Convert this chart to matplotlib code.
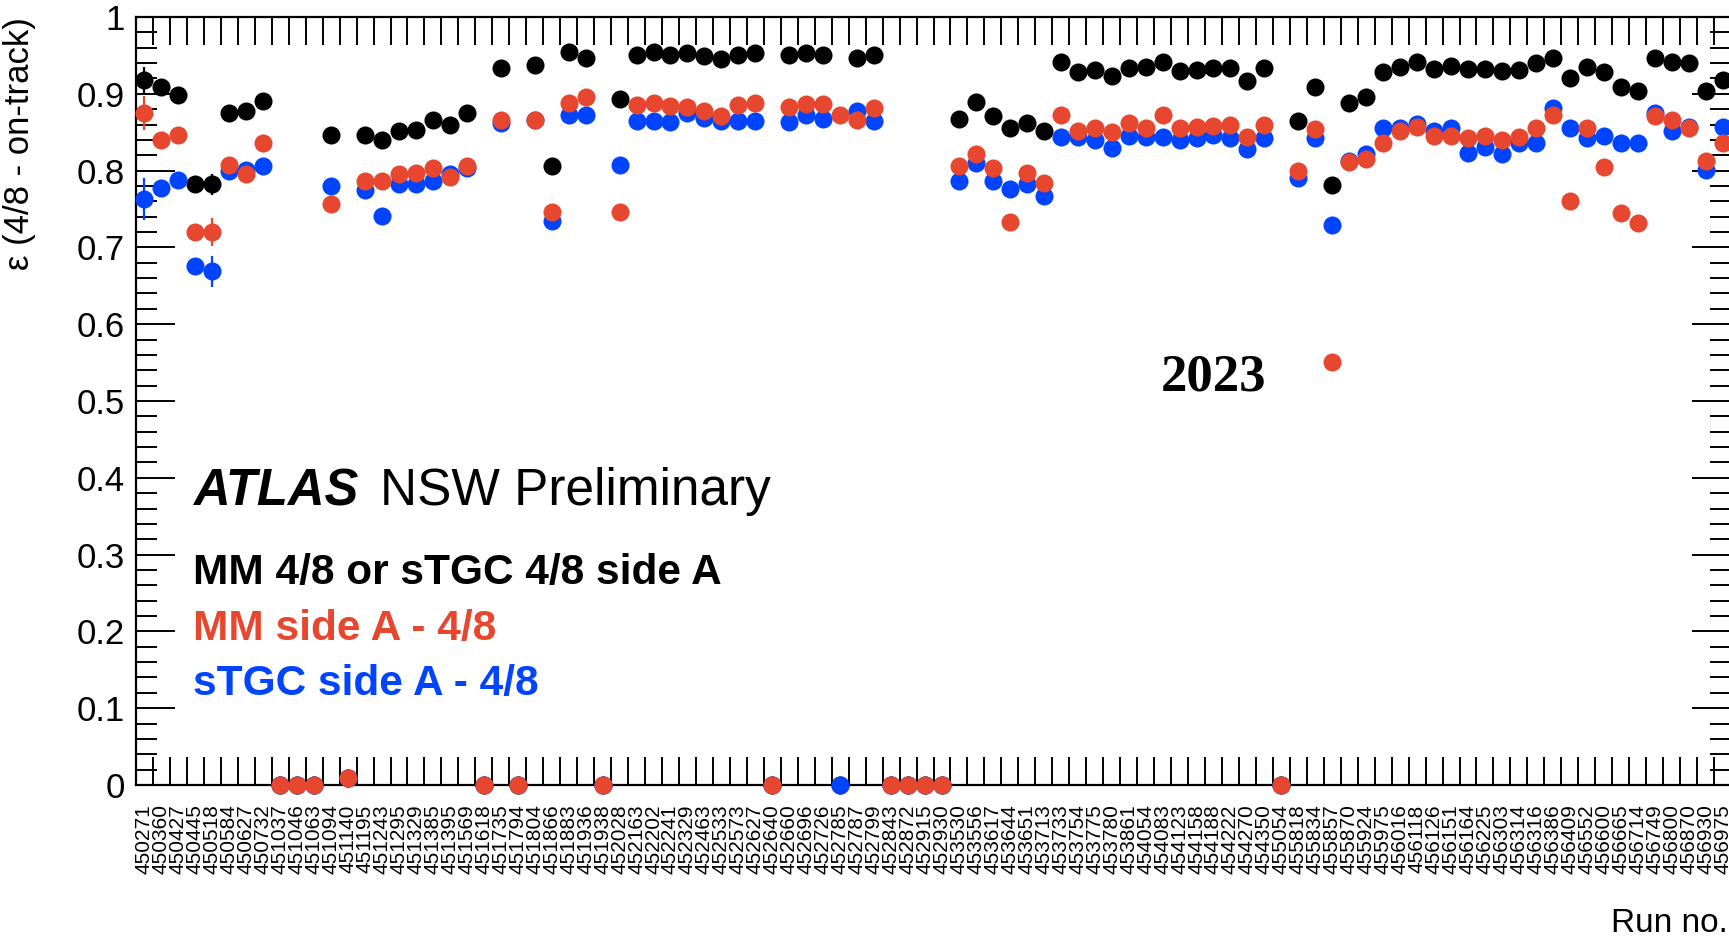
import numpy as np
import matplotlib.pyplot as plt
from matplotlib.ticker import MultipleLocator, FixedLocator, FixedFormatter

# run numbers, one per bin
RUNS = [
    "450271", "450360", "450427", "450445", "450518", "450584", "450627", "450732",
    "451037", "451046", "451063", "451094", "451140", "451195", "451243", "451295",
    "451329", "451385", "451395", "451569", "451618", "451735", "451794", "451804",
    "451866", "451883", "451936", "451938", "452028", "452163", "452202", "452241",
    "452329", "452463", "452533", "452573", "452627", "452640", "452660", "452696",
    "452726", "452785", "452787", "452799", "452843", "452872", "452915", "452930",
    "453530", "453556", "453617", "453644", "453651", "453713", "453733", "453754",
    "453775", "453780", "453861", "454054", "454083", "454123", "454158", "454188",
    "454222", "454270", "454350", "455054", "455818", "455834", "455857", "455870",
    "455924", "455975", "456016", "456118", "456126", "456151", "456164", "456225",
    "456303", "456314", "456316", "456386", "456409", "456552", "456600", "456665",
    "456714", "456749", "456800", "456870", "456930", "456975",
]

# MM 4/8 or sTGC 4/8
EFF_OR = [
    0.918, 0.909, 0.899, 0.782, 0.782, 0.875, 0.877, 0.890, 0.0, 0.0,
    0.0, 0.846, 0.009, 0.847, 0.840, 0.852, 0.853, 0.866, 0.860, 0.875,
    0.0, 0.934, 0.0, 0.938, 0.806, 0.955, 0.947, 0.0, 0.893, 0.951,
    0.954, 0.951, 0.953, 0.949, 0.945, 0.951, 0.953, 0.0, 0.951, 0.953,
    0.951, 0.0, 0.947, 0.951, 0.0, 0.0, 0.0, 0.0, 0.867, 0.889,
    0.871, 0.856, 0.862, 0.852, 0.941, 0.929, 0.931, 0.923, 0.933, 0.935,
    0.942, 0.930, 0.931, 0.934, 0.934, 0.917, 0.934, 0.0, 0.864, 0.909,
    0.781, 0.888, 0.896, 0.929, 0.935, 0.942, 0.932, 0.936, 0.932, 0.932,
    0.930, 0.931, 0.940, 0.947, 0.920, 0.935, 0.929, 0.909, 0.904, 0.946,
    0.941, 0.940, 0.903, 0.918,
]

# MM side A
EFF_MM = [
    0.875, 0.840, 0.847, 0.720, 0.720, 0.807, 0.796, 0.836, 0.0, 0.0,
    0.0, 0.756, 0.009, 0.786, 0.786, 0.796, 0.797, 0.803, 0.792, 0.806,
    0.0, 0.866, 0.0, 0.866, 0.746, 0.888, 0.896, 0.0, 0.746, 0.886,
    0.888, 0.884, 0.883, 0.877, 0.871, 0.886, 0.888, 0.0, 0.883, 0.887,
    0.887, 0.873, 0.866, 0.882, 0.0, 0.0, 0.0, 0.0, 0.806, 0.822,
    0.804, 0.733, 0.797, 0.784, 0.872, 0.852, 0.856, 0.850, 0.862, 0.855,
    0.872, 0.855, 0.857, 0.858, 0.859, 0.844, 0.860, 0.0, 0.800, 0.854,
    0.551, 0.811, 0.815, 0.836, 0.852, 0.857, 0.845, 0.845, 0.842, 0.845,
    0.840, 0.844, 0.856, 0.872, 0.761, 0.855, 0.805, 0.745, 0.732, 0.871,
    0.866, 0.856, 0.812, 0.836,
]

# sTGC side A
EFF_STGC = [
    0.763, 0.777, 0.788, 0.676, 0.669, 0.799, 0.801, 0.806, 0.0, 0.0,
    0.0, 0.780, 0.009, 0.775, 0.741, 0.782, 0.782, 0.786, 0.795, 0.803,
    0.0, 0.862, 0.0, 0.866, 0.734, 0.872, 0.872, 0.0, 0.807, 0.864,
    0.864, 0.863, 0.875, 0.868, 0.864, 0.864, 0.864, 0.0, 0.863, 0.872,
    0.867, 0.0, 0.877, 0.865, 0.0, 0.0, 0.0, 0.0, 0.786, 0.810,
    0.786, 0.776, 0.782, 0.767, 0.844, 0.844, 0.840, 0.830, 0.845, 0.844,
    0.844, 0.840, 0.843, 0.846, 0.843, 0.828, 0.842, 0.0, 0.791, 0.843,
    0.729, 0.812, 0.822, 0.856, 0.856, 0.861, 0.851, 0.855, 0.823, 0.831,
    0.822, 0.836, 0.836, 0.881, 0.856, 0.842, 0.845, 0.836, 0.836, 0.875,
    0.851, 0.857, 0.801, 0.857,
]

# visible statistical errors (bin index -> error)
ERR_OR = {0: 0.017, 4: 0.014}
ERR_MM = {0: 0.022, 4: 0.018}
ERR_STGC = {0: 0.027, 4: 0.020}

RED = "#e8472f"
BLUE = "#0044ff"
FONT = "Liberation Sans"

W, H = 1729, 939
fig = plt.figure(figsize=(W / 100, H / 100), dpi=100)
ax = fig.add_axes([136 / W, 1 - 785 / H, (1731 - 136) / W, (785 - 17) / H])

x = np.arange(len(RUNS))
series = [(EFF_OR, ERR_OR, "black"), (EFF_STGC, ERR_STGC, BLUE), (EFF_MM, ERR_MM, RED)]
for z, (vals, errs, col) in enumerate(series):
    ax.plot(x, vals, "o", ms=13, mew=0, color=col, clip_on=False, zorder=3 + z)
    for i, e in errs.items():
        ax.vlines(i, vals[i] - e, vals[i] + e, color=col, lw=1.6, zorder=3 + z)

ax.set_xlim(-0.5, len(RUNS) - 0.5)
ax.set_ylim(0, 1)

# x: labels at bin centres, ticks at bin edges
ax.xaxis.set_major_locator(FixedLocator(x))
ax.xaxis.set_major_formatter(FixedFormatter(RUNS))
ax.xaxis.set_minor_locator(FixedLocator(np.arange(0.5, len(RUNS) - 1, 1)))
ax.tick_params(axis="x", which="major", length=0, pad=14, labelsize=15,
               labelrotation=90)
ax.tick_params(axis="x", which="minor", direction="in", length=20, width=1.4,
               top=True, bottom=True)
for lab in ax.get_xticklabels():
    lab.set_fontfamily(FONT)
    lab.set_verticalalignment("top")

# y
yt = np.round(np.arange(0, 1.01, 0.1), 1)
ax.yaxis.set_major_locator(FixedLocator(yt))
ax.yaxis.set_major_formatter(FixedFormatter(["0"] + [f"{v:.1f}" for v in yt[1:-1]] + ["1"]))
ax.yaxis.set_minor_locator(MultipleLocator(0.02))
ax.tick_params(axis="y", which="major", direction="in", length=28, width=1.4,
               left=True, right=True, labelsize=25, pad=8)
ax.tick_params(axis="y", which="minor", direction="in", length=15, width=1.4,
               left=True, right=True)
for lab in ax.get_yticklabels():
    lab.set_fontfamily(FONT)

for sp in ax.spines.values():
    sp.set_linewidth(1.6)

fig.text(20 / W, 1 - 17 / H, "ε (4/8 - on-track)", rotation=90, ha="center",
         va="top", fontsize=25, family=FONT)
fig.text(0.9995, 1 - 932 / H, "Run no.", ha="right", va="baseline",
         fontsize=24, family=FONT)

fig.text(193 / W, 1 - 505 / H, "ATLAS", fontsize=36.5, family=FONT,
         fontweight="bold", fontstyle="italic", va="baseline")
fig.text(380 / W, 1 - 505 / H, "NSW Preliminary", fontsize=37, family=FONT,
         va="baseline")
fig.text(193 / W, 1 - 584 / H, "MM 4/8 or sTGC 4/8 side A", fontsize=30.5,
         family=FONT, fontweight="bold", color="black", va="baseline")
fig.text(193 / W, 1 - 640 / H, "MM side A - 4/8", fontsize=30.5,
         family=FONT, fontweight="bold", color=RED, va="baseline")
fig.text(193 / W, 1 - 695 / H, "sTGC side A - 4/8", fontsize=30.5,
         family=FONT, fontweight="bold", color=BLUE, va="baseline")
fig.text(1161 / W, 1 - 390 / H, "2023", fontsize=38, family="Liberation Serif",
         fontweight="bold", va="baseline")

fig.savefig("out.png", dpi=100)
